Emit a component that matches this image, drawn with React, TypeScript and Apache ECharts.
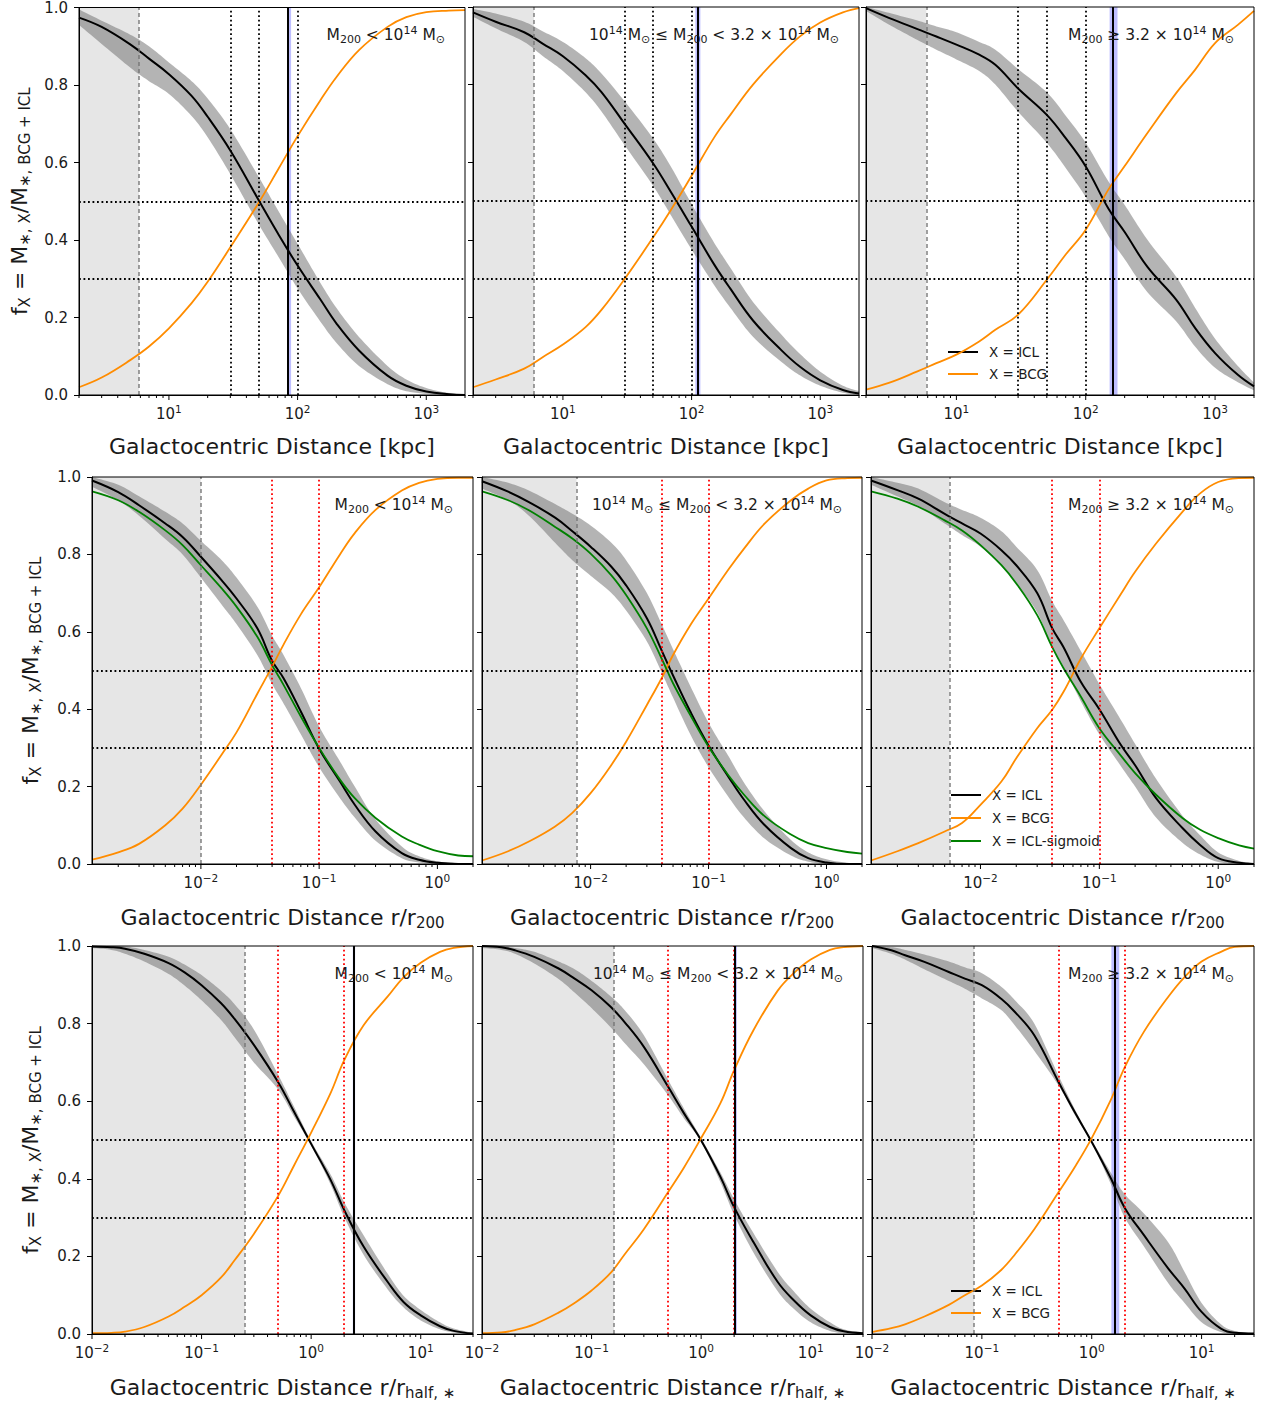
import React, { useEffect, useRef } from 'react';
import * as echarts from 'echarts';

// ---------- sampling radii, one set per row of panels ----------
const KPC_R = [2, 3, 5, 7, 10, 15, 20, 30, 50, 70, 100, 150, 200, 300, 500, 700, 1000, 1500, 2000];
const R200_R = [0.0012, 0.002, 0.003, 0.005, 0.007, 0.01, 0.015, 0.02, 0.03, 0.04, 0.05, 0.07, 0.1, 0.15, 0.2, 0.3, 0.5, 0.7, 1, 1.5, 2];
const RHALF_R = [0.01, 0.015, 0.02, 0.03, 0.05, 0.07, 0.1, 0.15, 0.2, 0.3, 0.5, 0.7, 1, 1.5, 2, 3, 5, 7, 10, 15, 20, 30];

// ---------- row 1: physical radius [kpc] ----------
const KPC_LOW_ICL = [0.974, 0.95, 0.905, 0.868, 0.828, 0.772, 0.718, 0.631, 0.502, 0.418, 0.334, 0.247, 0.185, 0.115, 0.05, 0.024, 0.009, 0.002, 0.0];
const KPC_LOW_LO = [0.955, 0.906, 0.845, 0.81, 0.777, 0.72, 0.665, 0.57, 0.44, 0.36, 0.275, 0.19, 0.135, 0.075, 0.028, 0.01, 0.003, 0.0, 0.0];
const KPC_LOW_HI = [0.995, 0.966, 0.93, 0.9, 0.858, 0.81, 0.765, 0.686, 0.562, 0.478, 0.39, 0.29, 0.225, 0.15, 0.075, 0.04, 0.018, 0.005, 0.001];
const KPC_LOW_BCG = [0.02, 0.045, 0.09, 0.125, 0.172, 0.237, 0.292, 0.381, 0.497, 0.58, 0.668, 0.76, 0.82, 0.89, 0.95, 0.975, 0.988, 0.992, 0.993];

const KPC_MID_ICL = [0.986, 0.962, 0.935, 0.905, 0.873, 0.824, 0.78, 0.7, 0.598, 0.52, 0.434, 0.336, 0.274, 0.192, 0.115, 0.072, 0.038, 0.013, 0.004];
const KPC_MID_LO = [0.975, 0.945, 0.91, 0.873, 0.835, 0.78, 0.73, 0.645, 0.54, 0.46, 0.375, 0.283, 0.225, 0.15, 0.085, 0.05, 0.024, 0.006, 0.001];
const KPC_MID_HI = [0.995, 0.983, 0.962, 0.937, 0.91, 0.868, 0.828, 0.758, 0.662, 0.585, 0.492, 0.392, 0.328, 0.24, 0.155, 0.105, 0.06, 0.024, 0.01];
const KPC_MID_BCG = [0.02, 0.04, 0.068, 0.098, 0.13, 0.175, 0.22, 0.298, 0.405, 0.48, 0.565, 0.664, 0.722, 0.8, 0.88, 0.925, 0.96, 0.986, 0.997];

const KPC_HIGH_ICL = [0.997, 0.972, 0.943, 0.924, 0.903, 0.877, 0.851, 0.79, 0.722, 0.662, 0.589, 0.48, 0.42, 0.33, 0.246, 0.173, 0.108, 0.052, 0.022];
const KPC_HIGH_LO = [0.99, 0.955, 0.915, 0.89, 0.865, 0.835, 0.8, 0.73, 0.65, 0.585, 0.51, 0.41, 0.35, 0.265, 0.19, 0.125, 0.07, 0.033, 0.012];
const KPC_HIGH_HI = [1.0, 0.985, 0.965, 0.95, 0.935, 0.91, 0.89, 0.84, 0.78, 0.72, 0.65, 0.55, 0.49, 0.4, 0.305, 0.225, 0.145, 0.075, 0.032];
const KPC_HIGH_BCG = [0.014, 0.031, 0.061, 0.082, 0.104, 0.138, 0.168, 0.207, 0.297, 0.362, 0.426, 0.53, 0.59, 0.675, 0.778, 0.838, 0.907, 0.954, 0.99];

// ---------- row 2: radius in units of r200 ----------
const R200_LOW_ICL = [0.991, 0.961, 0.927, 0.88, 0.845, 0.794, 0.733, 0.686, 0.609, 0.525, 0.48, 0.394, 0.298, 0.213, 0.153, 0.084, 0.028, 0.011, 0.003, 0.0, 0.0];
const R200_LOW_LO = [0.975, 0.94, 0.9, 0.84, 0.8, 0.74, 0.67, 0.62, 0.54, 0.465, 0.415, 0.335, 0.25, 0.17, 0.12, 0.06, 0.015, 0.004, 0.0, 0.0, 0.0];
const R200_LOW_HI = [1.0, 0.98, 0.95, 0.91, 0.88, 0.835, 0.785, 0.74, 0.665, 0.59, 0.54, 0.455, 0.355, 0.265, 0.2, 0.115, 0.045, 0.02, 0.007, 0.002, 0.001];
const R200_LOW_SIG = [0.963, 0.94, 0.91, 0.862, 0.824, 0.772, 0.712, 0.665, 0.587, 0.514, 0.463, 0.381, 0.3, 0.218, 0.17, 0.119, 0.071, 0.05, 0.033, 0.022, 0.02];
const R200_LOW_BCG = [0.011, 0.03, 0.052, 0.1, 0.143, 0.205, 0.283, 0.34, 0.44, 0.51, 0.567, 0.645, 0.715, 0.8, 0.855, 0.915, 0.965, 0.985, 0.995, 0.998, 0.998];

const R200_MID_ICL = [0.989, 0.962, 0.935, 0.895, 0.86, 0.82, 0.768, 0.72, 0.635, 0.552, 0.487, 0.394, 0.306, 0.222, 0.166, 0.1, 0.041, 0.015, 0.004, 0.0, 0.0];
const R200_MID_LO = [0.97, 0.94, 0.9, 0.83, 0.785, 0.745, 0.7, 0.655, 0.575, 0.495, 0.43, 0.335, 0.25, 0.17, 0.12, 0.065, 0.022, 0.006, 0.0, 0.0, 0.0];
const R200_MID_HI = [1.0, 0.985, 0.965, 0.93, 0.905, 0.875, 0.83, 0.785, 0.7, 0.62, 0.555, 0.46, 0.365, 0.275, 0.21, 0.135, 0.062, 0.03, 0.012, 0.003, 0.001];
const R200_MID_SIG = [0.963, 0.94, 0.914, 0.871, 0.841, 0.802, 0.746, 0.695, 0.609, 0.531, 0.467, 0.385, 0.303, 0.226, 0.179, 0.123, 0.076, 0.054, 0.041, 0.031, 0.027];
const R200_MID_BCG = [0.009, 0.033, 0.058, 0.097, 0.132, 0.183, 0.256, 0.316, 0.411, 0.48, 0.54, 0.617, 0.686, 0.764, 0.815, 0.88, 0.94, 0.97, 0.991, 0.997, 0.998];

const R200_HIGH_ICL = [0.991, 0.966, 0.944, 0.905, 0.88, 0.854, 0.811, 0.772, 0.7, 0.61, 0.56, 0.47, 0.4, 0.31, 0.255, 0.17, 0.093, 0.05, 0.015, 0.003, 0.0];
const R200_HIGH_LO = [0.98, 0.95, 0.925, 0.88, 0.85, 0.82, 0.77, 0.725, 0.65, 0.56, 0.51, 0.42, 0.335, 0.255, 0.2, 0.12, 0.055, 0.025, 0.005, 0.0, 0.0];
const R200_HIGH_HI = [1.0, 0.985, 0.97, 0.935, 0.915, 0.895, 0.86, 0.82, 0.76, 0.68, 0.63, 0.55, 0.465, 0.375, 0.31, 0.22, 0.125, 0.075, 0.03, 0.008, 0.002];
const R200_HIGH_SIG = [0.963, 0.944, 0.923, 0.888, 0.862, 0.824, 0.772, 0.725, 0.643, 0.561, 0.506, 0.432, 0.351, 0.282, 0.235, 0.179, 0.119, 0.089, 0.067, 0.048, 0.04];
const R200_HIGH_BCG = [0.009, 0.033, 0.054, 0.084, 0.106, 0.153, 0.213, 0.273, 0.351, 0.398, 0.445, 0.531, 0.609, 0.695, 0.755, 0.828, 0.91, 0.957, 0.987, 0.997, 0.998];

// ---------- row 3: radius in units of the stellar half-mass radius ----------
const RHALF_LOW_ICL = [0.999, 0.997, 0.993, 0.98, 0.956, 0.932, 0.899, 0.853, 0.812, 0.745, 0.649, 0.572, 0.49, 0.398, 0.32, 0.226, 0.134, 0.082, 0.048, 0.02, 0.008, 0.001];
const RHALF_LOW_LO = [0.995, 0.99, 0.98, 0.96, 0.928, 0.898, 0.86, 0.81, 0.765, 0.7, 0.63, 0.56, 0.485, 0.386, 0.302, 0.205, 0.115, 0.068, 0.035, 0.012, 0.004, 0.0];
const RHALF_LOW_HI = [1.0, 1.0, 0.999, 0.99, 0.972, 0.952, 0.925, 0.885, 0.85, 0.785, 0.668, 0.585, 0.497, 0.412, 0.34, 0.255, 0.155, 0.098, 0.062, 0.03, 0.014, 0.003];
const RHALF_LOW_BCG = [0.002, 0.003, 0.006, 0.018, 0.045, 0.07, 0.1, 0.145, 0.19, 0.258, 0.356, 0.435, 0.519, 0.62, 0.705, 0.795, 0.87, 0.92, 0.957, 0.985, 0.995, 1.0];

const RHALF_MID_ICL = [1.0, 0.997, 0.989, 0.972, 0.942, 0.916, 0.886, 0.843, 0.804, 0.74, 0.637, 0.568, 0.499, 0.405, 0.327, 0.237, 0.134, 0.087, 0.048, 0.018, 0.007, 0.002];
const RHALF_MID_LO = [0.995, 0.99, 0.98, 0.955, 0.915, 0.88, 0.84, 0.79, 0.75, 0.695, 0.615, 0.555, 0.495, 0.391, 0.307, 0.21, 0.11, 0.065, 0.03, 0.008, 0.002, 0.0];
const RHALF_MID_HI = [1.0, 1.0, 0.995, 0.985, 0.96, 0.94, 0.91, 0.87, 0.835, 0.77, 0.655, 0.58, 0.505, 0.416, 0.347, 0.26, 0.16, 0.11, 0.065, 0.03, 0.012, 0.003];
const RHALF_MID_BCG = [0.002, 0.004, 0.01, 0.025, 0.055, 0.08, 0.112, 0.158, 0.205, 0.27, 0.366, 0.43, 0.505, 0.595, 0.68, 0.783, 0.885, 0.93, 0.965, 0.99, 0.997, 1.0];

const RHALF_HIGH_ICL = [1.0, 0.989, 0.976, 0.959, 0.933, 0.916, 0.899, 0.864, 0.83, 0.77, 0.649, 0.572, 0.495, 0.4, 0.325, 0.254, 0.168, 0.117, 0.057, 0.014, 0.003, 0.001];
const RHALF_HIGH_LO = [0.995, 0.98, 0.965, 0.94, 0.91, 0.89, 0.865, 0.835, 0.795, 0.73, 0.64, 0.565, 0.492, 0.385, 0.3, 0.225, 0.13, 0.08, 0.03, 0.005, 0.001, 0.0];
const RHALF_HIGH_HI = [1.0, 0.997, 0.99, 0.978, 0.96, 0.945, 0.93, 0.895, 0.86, 0.8, 0.665, 0.58, 0.5, 0.415, 0.36, 0.31, 0.235, 0.16, 0.08, 0.025, 0.008, 0.002];
const RHALF_HIGH_BCG = [0.005, 0.015, 0.025, 0.045, 0.075, 0.1, 0.125, 0.165, 0.205, 0.27, 0.366, 0.43, 0.505, 0.605, 0.688, 0.78, 0.87, 0.92, 0.96, 0.985, 0.998, 1.0];

// ---------- reference radii ----------
const KPC_RES_LIMIT = [5.85, 5.95, 5.85];
const R200_RES_LIMIT = [0.01, 0.0076, 0.0055];
const RHALF_RES_LIMIT = [0.248, 0.16, 0.085];
const KPC_GUIDES = [30, 50, 100];
const R200_GUIDES = [0.04, 0.1];
const RHALF_GUIDES = [0.5, 2];
const FRACTION_GUIDES = [0.5, 0.3];
// median r_half,* (line) and its spread (shaded)
const KPC_RHALF = [84, 111, 163];
const KPC_RHALF_LO = [83, 107, 153];
const KPC_RHALF_HI = [89, 117, 176];
const RHALF_RATIO = [2.43, 2.02, 1.62];
const RHALF_RATIO_LO = [2.4, 1.99, 1.51];
const RHALF_RATIO_HI = [2.52, 2.12, 1.78];

// ---------- axes and labels ----------
const ROW_X_MIN = [2, 0.0012, 0.01];
const ROW_X_MAX = [2000, 2, 30];
const ROW_DECADES = [[0, 1, 2, 3], [-3, -2, -1, 0], [-2, -1, 0, 1]];
const TICK_FACTORS = [1, 2, 3, 4, 5, 6, 7, 8, 9];
const Y_MIN = 0;
const Y_MAX = 1;
const Y_STEP = 0.2;

const X_NAMES = [
  'Galactocentric Distance [kpc]',
  'Galactocentric Distance r/r{sub|200}',
  'Galactocentric Distance r/r{sub|half, ∗}',
];
const Y_NAME = 'f{sub|X} = M{sub|∗, X}/M{sub|∗, BCG + ICL}';
const MASS_BIN_LABELS = [
  '{n|M}{sub|200}{n| < 10}{sup|14}{n| M}{sub|⊙}',
  '{n|10}{sup|14}{n| M}{sub|⊙}{n| ≤ M}{sub|200}{n| < 3.2 × 10}{sup|14}{n| M}{sub|⊙}',
  '{n|M}{sub|200}{n| ≥ 3.2 × 10}{sup|14}{n| M}{sub|⊙}',
];
const NAME_ICL = 'X = ICL';
const NAME_BCG = 'X = BCG';
const NAME_SIG = 'X = ICL-sigmoid';
const LEGEND_ROWS = [[NAME_ICL, NAME_BCG], [NAME_ICL, NAME_BCG, NAME_SIG], [NAME_ICL, NAME_BCG]];

// ---------- layout & style ----------
const FONT = 'DejaVu Sans';
const TXT = '#1a1a1a';
const BCG_COLOR = '#ff8c00';
const SIG_COLOR = '#008000';
const BAND_FILL = 'rgba(105,105,105,0.5)';
const SHADE_FILL = 'rgba(128,128,128,0.2)';
const REF_FILL = 'rgba(70,70,255,0.35)';
const GRID_TOP = [7, 477, 946];
const GRID_HEIGHT = [388, 387, 388];
const GRID_LEFT = [[79, 473, 866], [92, 482, 871], [92, 482, 872]];
const GRID_WIDTH = [[386, 386, 388], [381, 380, 383], [381, 381, 382]];
const X_NAME_GAP = [38, 40, 40];
const Y_NAME_GAP = [47, 49, 49];
const LEGEND_POS = [[947, 345], [950, 788], [950, 1284]];

interface Panel {
  r: number[];
  icl: number[];
  lo: number[];
  hi: number[];
  bcg: number[];
  sig?: number[];
  edge: number;
  guides: number[];
  guideColor: string;
  ref?: [number, number, number];
}

const ROWS: Panel[][] = [
  [
    { r: KPC_R, icl: KPC_LOW_ICL, lo: KPC_LOW_LO, hi: KPC_LOW_HI, bcg: KPC_LOW_BCG, edge: KPC_RES_LIMIT[0], guides: KPC_GUIDES, guideColor: '#000', ref: [KPC_RHALF[0], KPC_RHALF_LO[0], KPC_RHALF_HI[0]] },
    { r: KPC_R, icl: KPC_MID_ICL, lo: KPC_MID_LO, hi: KPC_MID_HI, bcg: KPC_MID_BCG, edge: KPC_RES_LIMIT[1], guides: KPC_GUIDES, guideColor: '#000', ref: [KPC_RHALF[1], KPC_RHALF_LO[1], KPC_RHALF_HI[1]] },
    { r: KPC_R, icl: KPC_HIGH_ICL, lo: KPC_HIGH_LO, hi: KPC_HIGH_HI, bcg: KPC_HIGH_BCG, edge: KPC_RES_LIMIT[2], guides: KPC_GUIDES, guideColor: '#000', ref: [KPC_RHALF[2], KPC_RHALF_LO[2], KPC_RHALF_HI[2]] },
  ],
  [
    { r: R200_R, icl: R200_LOW_ICL, lo: R200_LOW_LO, hi: R200_LOW_HI, bcg: R200_LOW_BCG, sig: R200_LOW_SIG, edge: R200_RES_LIMIT[0], guides: R200_GUIDES, guideColor: '#ff0000' },
    { r: R200_R, icl: R200_MID_ICL, lo: R200_MID_LO, hi: R200_MID_HI, bcg: R200_MID_BCG, sig: R200_MID_SIG, edge: R200_RES_LIMIT[1], guides: R200_GUIDES, guideColor: '#ff0000' },
    { r: R200_R, icl: R200_HIGH_ICL, lo: R200_HIGH_LO, hi: R200_HIGH_HI, bcg: R200_HIGH_BCG, sig: R200_HIGH_SIG, edge: R200_RES_LIMIT[2], guides: R200_GUIDES, guideColor: '#ff0000' },
  ],
  [
    { r: RHALF_R, icl: RHALF_LOW_ICL, lo: RHALF_LOW_LO, hi: RHALF_LOW_HI, bcg: RHALF_LOW_BCG, edge: RHALF_RES_LIMIT[0], guides: RHALF_GUIDES, guideColor: '#ff0000', ref: [RHALF_RATIO[0], RHALF_RATIO_LO[0], RHALF_RATIO_HI[0]] },
    { r: RHALF_R, icl: RHALF_MID_ICL, lo: RHALF_MID_LO, hi: RHALF_MID_HI, bcg: RHALF_MID_BCG, edge: RHALF_RES_LIMIT[1], guides: RHALF_GUIDES, guideColor: '#ff0000', ref: [RHALF_RATIO[1], RHALF_RATIO_LO[1], RHALF_RATIO_HI[1]] },
    { r: RHALF_R, icl: RHALF_HIGH_ICL, lo: RHALF_HIGH_LO, hi: RHALF_HIGH_HI, bcg: RHALF_HIGH_BCG, edge: RHALF_RES_LIMIT[2], guides: RHALF_GUIDES, guideColor: '#ff0000', ref: [RHALF_RATIO[2], RHALF_RATIO_LO[2], RHALF_RATIO_HI[2]] },
  ],
];

// Catmull-Rom spline through pixel points, used for the scatter band outline
function spline(pts: number[][], steps = 10): number[][] {
  const out: number[][] = [];
  const n = pts.length;
  for (let i = 0; i < n - 1; i++) {
    const p0 = pts[Math.max(i - 1, 0)];
    const p1 = pts[i];
    const p2 = pts[i + 1];
    const p3 = pts[Math.min(i + 2, n - 1)];
    for (let s = 0; s < steps; s++) {
      const t = s / steps;
      const t2 = t * t;
      const t3 = t2 * t;
      out.push([0, 1].map((d) =>
        0.5 * (2 * p1[d] + (-p0[d] + p2[d]) * t + (2 * p0[d] - 5 * p1[d] + 4 * p2[d] - p3[d]) * t2 + (-p0[d] + 3 * p1[d] - 3 * p2[d] + p3[d]) * t3)
      ));
    }
  }
  out.push(pts[n - 1]);
  return out;
}

function decadeLabel(v: number): string {
  const e = Math.log10(v);
  const r = Math.round(e);
  if (Math.abs(e - r) > 1e-6) return '';
  return `{b|10}{e|${r < 0 ? '−' + -r : r}}`;
}

function richEc(size: number, sub: number) {
  return {
    n: { fontSize: size, fontFamily: FONT, color: TXT },
    sub: { fontSize: sub, fontFamily: FONT, color: TXT, verticalAlign: 'bottom' },
    sup: { fontSize: sub, fontFamily: FONT, color: TXT, verticalAlign: 'top' },
  };
}

function buildOption() {
  const grid: any[] = [];
  const xAxis: any[] = [];
  const yAxis: any[] = [];
  const series: any[] = [];
  const graphic: any[] = [];

  ROWS.forEach((row, ri) => {
    const ticks: number[][] = [];
    ROW_DECADES[ri].forEach((d) =>
      TICK_FACTORS.forEach((f) => {
        const v = f * Math.pow(10, d);
        if (v >= ROW_X_MIN[ri] * 0.999 && v <= ROW_X_MAX[ri] * 1.001) ticks.push([v, 0, f === 1 ? 5 : 3]);
      })
    );

    row.forEach((p, ci) => {
      const i = grid.length;
      const left = GRID_LEFT[ri][ci];
      const top = GRID_TOP[ri];
      const width = GRID_WIDTH[ri][ci];
      const height = GRID_HEIGHT[ri];

      grid.push({ left, top, width, height, show: true, borderColor: '#000', borderWidth: 1, backgroundColor: 'rgba(0,0,0,0)', z: 10 });

      xAxis.push({
        type: 'log', logBase: 10, gridIndex: i, min: ROW_X_MIN[ri], max: ROW_X_MAX[ri],
        name: X_NAMES[ri], nameLocation: 'middle', nameGap: X_NAME_GAP[ri],
        nameTextStyle: { fontFamily: FONT, fontSize: 22, color: TXT, lineHeight: 26, rich: richEc(22, 15) },
        axisLine: { show: true, lineStyle: { color: '#000', width: 1 } },
        axisTick: { show: false }, minorTick: { show: false },
        splitLine: { show: false }, minorSplitLine: { show: false },
        axisLabel: {
          margin: 8, color: TXT, fontFamily: FONT, fontSize: 15, formatter: decadeLabel,
          rich: {
            b: { fontSize: 15, lineHeight: 21, fontFamily: FONT, color: TXT },
            e: { fontSize: 10.5, fontFamily: FONT, color: TXT, verticalAlign: 'top' },
          },
        },
        z: 10,
      });

      yAxis.push({
        type: 'value', gridIndex: i, min: Y_MIN, max: Y_MAX, interval: Y_STEP,
        name: ci === 0 ? Y_NAME : '', nameLocation: 'middle', nameGap: Y_NAME_GAP[ri], nameRotate: 90,
        nameTextStyle: { fontFamily: FONT, fontSize: 22, color: TXT, lineHeight: 26, rich: richEc(22, 15) },
        axisLine: { show: true, lineStyle: { color: '#000', width: 1 } },
        axisTick: { show: true, inside: false, length: 5, lineStyle: { color: '#000', width: 1 } },
        splitLine: { show: false },
        axisLabel: { show: ci === 0, margin: 11, color: TXT, fontFamily: FONT, fontSize: 15, formatter: (v: number) => v.toFixed(1) },
        z: 10,
      });

      // resolution-limited region and r_half spread
      const areas: any[] = [[{ xAxis: ROW_X_MIN[ri], itemStyle: { color: SHADE_FILL } }, { xAxis: p.edge }]];
      if (p.ref) areas.push([{ xAxis: p.ref[1], itemStyle: { color: REF_FILL } }, { xAxis: p.ref[2] }]);
      series.push({
        type: 'line', name: 'limits', xAxisIndex: i, yAxisIndex: i, data: [[p.edge, 0]],
        symbol: 'none', lineStyle: { width: 0, opacity: 0 }, silent: true, z: 1,
        markArea: { silent: true, precision: 8, data: areas },
      });

      // ICL scatter band
      series.push({
        type: 'custom', name: 'ICL scatter', xAxisIndex: i, yAxisIndex: i, silent: true, z: 2,
        data: [[p.r[0], p.lo[0]]],
        renderItem: (_params: any, api: any) => {
          const lower = p.r.map((x, k) => api.coord([x, p.lo[k]]));
          const upper = p.r.map((x, k) => api.coord([x, p.hi[k]]));
          const pts = spline(lower).concat(spline(upper).reverse());
          return { type: 'polygon', shape: { points: pts }, style: { fill: BAND_FILL } };
        },
      });

      // guide lines
      const dotted = (color: string) => ({ color, type: [1.8, 2.7], width: 1.8, cap: 'butt' });
      const lines: any[] = [{ xAxis: p.edge, lineStyle: { color: 'rgba(115,115,115,0.9)', type: [4, 3], width: 1.5 } }];
      p.guides.forEach((g) => lines.push({ xAxis: g, lineStyle: dotted(p.guideColor) }));
      FRACTION_GUIDES.forEach((f) => lines.push({ yAxis: f, lineStyle: dotted('#000') }));
      if (p.ref) lines.push({ xAxis: p.ref[0], lineStyle: { color: '#000', type: 'solid', width: 2 } });
      series.push({
        type: 'line', name: 'guides', xAxisIndex: i, yAxisIndex: i, data: [[p.edge, 0]],
        symbol: 'none', lineStyle: { width: 0, opacity: 0 }, silent: true, z: 3,
        markLine: { silent: true, precision: 8, symbol: ['none', 'none'], label: { show: false }, data: lines },
      });

      const curve = (name: string, ys: number[], color: string, w: number) => ({
        type: 'line', name, xAxisIndex: i, yAxisIndex: i,
        data: p.r.map((x, k) => [x, ys[k]]),
        symbol: 'none', smooth: 0.4,
        lineStyle: { color, width: w }, itemStyle: { color },
        emphasis: { disabled: true }, silent: true, z: 4,
      });
      series.push(curve(NAME_ICL, p.icl, '#000', 2));
      series.push(curve(NAME_BCG, p.bcg, BCG_COLOR, 1.8));
      if (p.sig) series.push(curve(NAME_SIG, p.sig, SIG_COLOR, 1.8));

      // x ticks at every decade multiple
      series.push({
        type: 'custom', name: 'ticks', xAxisIndex: i, yAxisIndex: i, silent: true, z: 11, clip: false,
        data: ticks,
        renderItem: (_params: any, api: any) => {
          const pt = api.coord([api.value(0), 0]);
          const len = api.value(2);
          return { type: 'line', shape: { x1: pt[0], y1: pt[1], x2: pt[0], y2: pt[1] + len }, style: { stroke: '#000', lineWidth: 1 } };
        },
      });

      // mass bin label
      graphic.push({
        type: 'text', x: left + width - 20, y: top + 28, silent: true, z: 20,
        style: {
          text: MASS_BIN_LABELS[ci], align: 'right', verticalAlign: 'middle', textAlign: 'right', textVerticalAlign: 'middle',
          fontFamily: FONT, fontSize: 15.5, fill: TXT,
          rich: {
            n: { fontSize: 15.5, lineHeight: 20, fontFamily: FONT, fill: TXT },
            sub: { fontSize: 11, fontFamily: FONT, fill: TXT, verticalAlign: 'bottom' },
            sup: { fontSize: 11, fontFamily: FONT, fill: TXT, verticalAlign: 'top' },
          },
        },
      });
    });
  });

  const legend = LEGEND_ROWS.map((names, ri) => ({
    data: names, orient: 'vertical', left: LEGEND_POS[ri][0], top: LEGEND_POS[ri][1],
    itemWidth: 30, itemHeight: 14, itemGap: ri === 1 ? 9 : 8, padding: 0,
    itemStyle: { opacity: 0 },
    textStyle: { fontFamily: FONT, fontSize: 13.5, color: TXT, padding: [0, 0, 0, 6] },
  }));

  return { animation: false, backgroundColor: '#fff', grid, xAxis, yAxis, series, graphic, legend };
}

export default function App() {
  const ref = useRef<HTMLDivElement>(null);
  useEffect(() => {
    document.body.style.margin = '0';
    const chart = echarts.init(ref.current as HTMLDivElement, null, { renderer: 'svg' });
    chart.setOption(buildOption() as any);
    return () => chart.dispose();
  }, []);
  return <div ref={ref} style={{ width: 1262, height: 1403 }} />;
}
